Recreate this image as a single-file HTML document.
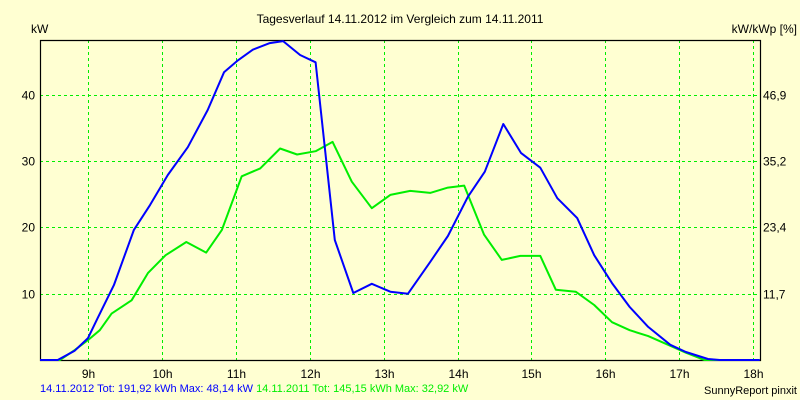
<!DOCTYPE html>
<html><head><meta charset="utf-8"><style>
html,body{margin:0;padding:0;background:#ffffd2;}
svg{display:block;font-family:"Liberation Sans",sans-serif;}
</style></head><body>
<svg id="chart" width="800" height="400" xmlns="http://www.w3.org/2000/svg">
<rect x="0" y="0" width="800" height="400" fill="#ffffd2"/>
<text x="400" y="23" text-anchor="middle" font-size="12" fill="#000">Tagesverlauf 14.11.2012 im Vergleich zum 14.11.2011</text>
<text x="31" y="33" font-size="12" fill="#000">kW</text>
<text x="797" y="33" text-anchor="end" font-size="12" fill="#000">kW/kWp [%]</text>
<g id="grid"></g>
<g id="axes"></g>
<g id="series"></g>
<text x="40" y="392" font-size="11"><tspan fill="#0000ff">14.11.2012 Tot: 191,92 kWh Max: 48,14 kW </tspan><tspan fill="#00ee00">14.11.2011 Tot: 145,15 kWh Max: 32,92 kW</tspan></text>
<text x="797" y="394" text-anchor="end" font-size="11" fill="#000">SunnyReport pinxit</text>
</svg>
<script>
const hourTicks = [9,10,11,12,13,14,15,16,17,18];
const kwTicks = [10,20,30,40];
const pctLabels = ["11,7","23,4","35,2","46,9"];
const times2012 = [8.35,8.59,8.82,9.0,9.13,9.35,9.62,9.84,10.08,10.35,10.62,10.84,11.03,11.23,11.46,11.64,11.87,12.08,12.34,12.59,12.84,13.09,13.33,13.63,13.87,14.14,14.37,14.62,14.86,15.12,15.35,15.62,15.85,16.09,16.33,16.58,16.88,17.09,17.39,17.55,18.09];
const values2012 = [0,0,1.4,3.3,6.3,11.3,19.6,23.4,27.9,32.1,37.7,43.4,45.2,46.8,47.8,48.1,46.0,44.9,18.1,10.1,11.5,10.3,10.0,14.8,18.7,24.6,28.4,35.6,31.2,29.0,24.4,21.4,15.8,11.6,8.0,5.0,2.3,1.2,0.15,0,0];
const times2011 = [8.35,8.62,8.82,9.0,9.16,9.32,9.59,9.81,10.05,10.33,10.6,10.81,11.08,11.33,11.6,11.83,12.08,12.31,12.57,12.84,13.09,13.36,13.63,13.87,14.09,14.36,14.6,14.85,15.12,15.33,15.6,15.85,16.09,16.33,16.58,16.85,17.09,17.34,17.82];
const values2011 = [0,0,1.5,3.0,4.5,7.0,9.0,13.1,15.8,17.8,16.2,19.6,27.7,28.9,31.9,31.0,31.5,32.9,26.9,22.9,24.9,25.5,25.2,26.0,26.3,18.9,15.1,15.7,15.7,10.6,10.3,8.3,5.7,4.5,3.6,2.3,1.1,0,0];

const NS = "http://www.w3.org/2000/svg";
const L = 40, R = 760, T = 40, B = 360;
function xs(h){ return 88 + (h - 9) * 73.9; }
function ys(v){ return B - v * 6.63; }
function mk(tag, attrs, parent){
  const e = document.createElementNS(NS, tag);
  for (const k in attrs) e.setAttribute(k, attrs[k]);
  parent.appendChild(e);
  return e;
}
const grid = document.getElementById('grid');
const axes = document.getElementById('axes');
const series = document.getElementById('series');

hourTicks.forEach(h => {
  const x = Math.round(xs(h)) + 0.5;
  const l = mk('line', {x1:x, y1:T, x2:x, y2:B, stroke:'#00ee00', 'stroke-dasharray':'3,3'}, grid);
  
  
  const t = mk('text', {x:x, y:B+18, 'text-anchor':'middle', 'font-size':'12', fill:'#000'}, axes);
  t.textContent = h + 'h';
  
  
});
kwTicks.forEach((v, i) => {
  const y = Math.round(ys(v)) + 0.5;
  const l = mk('line', {x1:L, y1:y, x2:R, y2:y, stroke:'#00ee00', 'stroke-dasharray':'3,3'}, grid);
  
  
  const t = mk('text', {x:35, y:y+4, 'text-anchor':'end', 'font-size':'12', fill:'#000'}, axes);
  t.textContent = v;
  
  
  const t2 = mk('text', {x:763, y:y+4, 'font-size':'12', fill:'#000'}, axes);
  t2.textContent = pctLabels[i];
  
  
});
const frame = mk('path', {d:`M${L+0.5},${T} V${B+0.5} H${R+0.5} V${T} M${L},${T+0.5} H${R+1}`, fill:'none', stroke:'#000', 'stroke-width':'1.2'}, axes);



function line(ts, vs, color, name){
  const pts = ts.map((t, i) => xs(t).toFixed(1) + ',' + ys(vs[i]).toFixed(1)).join(' ');
  const p = mk('polyline', {points:pts, fill:'none', stroke:color, 'stroke-width':'2', 'stroke-linejoin':'round'}, series);
  
  
}
line(times2011, values2011, '#00ee00', 'line-2011');
line(times2012, values2012, '#0000ff', 'line-2012');
</script>
</body></html>
